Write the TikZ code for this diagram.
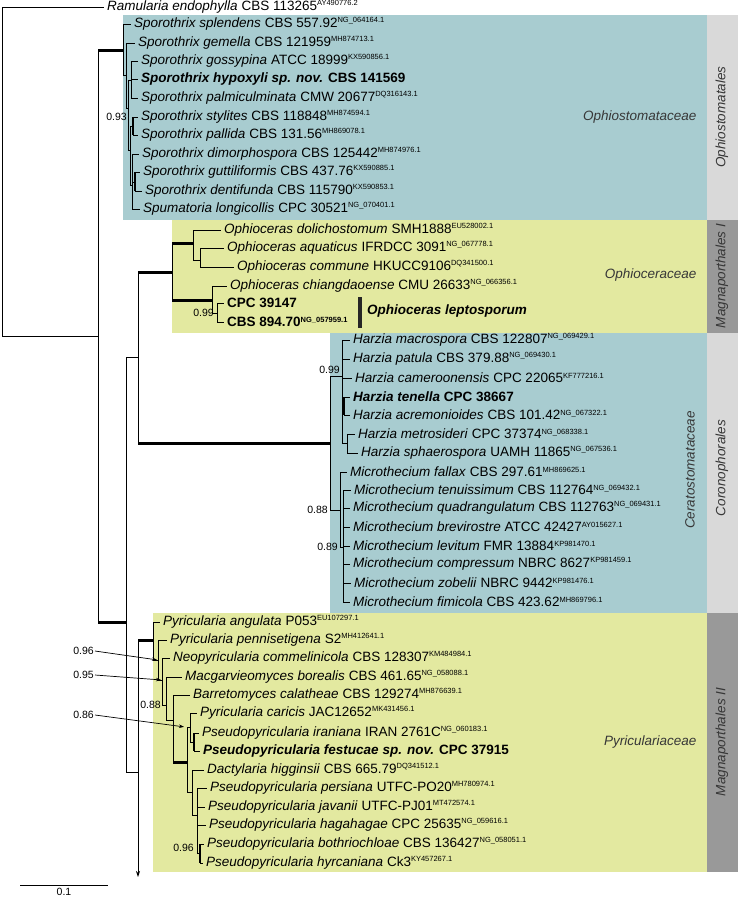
\documentclass[tikz,border=0pt]{standalone}
\usepackage{fontspec}
\setmainfont{Liberation Sans}
\usetikzlibrary{arrows.meta}
\definecolor{azul}{RGB}{168,204,208}
\definecolor{verde}{RGB}{227,233,160}
\definecolor{cinzaclaro}{RGB}{217,217,217}
\definecolor{cinzaescuro}{RGB}{153,153,153}
\definecolor{texto}{RGB}{55,55,55}
\newcommand{\acc}[1]{\raisebox{4.6pt}{\fontsize{7.5}{8}\selectfont #1}}
\newcommand{\tx}[3]{\textit{#1} #2\acc{#3}}
\begin{document}
\begin{tikzpicture}
    [x=1pt,y=-1pt,
     folha/.style={anchor=west,inner sep=3pt,font=\fontsize{13.5}{16}\selectfont},
     ramo/.style={line width=0.9pt},
     forte/.style={line width=3pt},
     medio/.style={line width=2pt},
     apoio/.style={anchor=east,inner sep=1pt,font=\fontsize{10.5}{12}\selectfont},
     fam/.style={anchor=east,font=\fontsize{13.5}{16}\selectfont\itshape,text=texto},
     ordem/.style={rotate=90,font=\fontsize{13.5}{16}\selectfont\itshape,text=texto},
     seta/.style={line width=0.7pt,-{Stealth[length=5pt,width=3.5pt]},shorten >=1pt} ]

    \useasboundingbox (0,0) rectangle (738,898);

    \fill[azul] (123,15) rectangle (707,220);
    \fill[cinzaclaro] (707,15) rectangle (738,220);
    \fill[verde] (172,220) rectangle (707,333);
    \fill[cinzaescuro] (707,220) rectangle (738,333);
    \fill[azul] (330,333) rectangle (707,613);
    \fill[cinzaclaro] (707,333) rectangle (738,613);
    \fill[verde] (153,613) rectangle (707,872);
    \fill[cinzaescuro] (707,613) rectangle (738,872);

    \node[ordem] (ord1) at (722,117) {Ophiostomatales};
    \node[ordem] (ord2) at (722,276) {Magnaporthales I};
    \node[ordem] (ord3) at (722,468) {Coronophorales};
    \node[ordem] (ord4) at (722,742) {Magnaporthales II};
    \node[fam] (fam1) at (700,117) {Ophiostomataceae};
    \node[fam] (fam2) at (700,275) {Ophioceraceae};
    \node[fam,rotate=90,anchor=center] (fam3) at (690,470) {Ceratostomataceae};
    \node[fam] (fam4) at (700,742) {Pyriculariaceae};

    \node[folha] (ram) at (104,7) {\tx{Ramularia endophylla}{CBS 113265}{AY490776.2}};

    \node[folha] (s1) at (131,24) {\tx{Sporothrix splendens}{CBS 557.92}{NG\_064164.1}};
    \node[folha] (s2) at (135,43) {\tx{Sporothrix gemella}{CBS 121959}{MH874713.1}};
    \node[folha] (s3) at (138,61) {\tx{Sporothrix gossypina}{ATCC 18999}{KX590856.1}};
    \node[folha] (s4) at (138,79) {\bfseries\textit{Sporothrix hypoxyli sp. nov.} CBS 141569};
    \node[folha] (s5) at (138,98) {\tx{Sporothrix palmiculminata}{CMW 20677}{DQ316143.1}};
    \node[folha] (s6) at (138,117) {\tx{Sporothrix stylites}{CBS 118848}{MH874594.1}};
    \node[folha] (s7) at (138,135) {\tx{Sporothrix pallida}{CBS 131.56}{MH869078.1}};
    \node[folha] (s8) at (139,154) {\tx{Sporothrix dimorphospora}{CBS 125442}{MH874976.1}};
    \node[folha] (s9) at (140,172) {\tx{Sporothrix guttiliformis}{CBS 437.76}{KX590885.1}};
    \node[folha] (s10) at (142,191) {\tx{Sporothrix dentifunda}{CBS 115790}{KX590853.1}};
    \node[folha] (s11) at (140,209) {\tx{Spumatoria longicollis}{CPC 30521}{NG\_070401.1}};

    \node[folha] (o1) at (221,230) {\tx{Ophioceras dolichostomum}{SMH1888}{EU528002.1}};
    \node[folha] (o2) at (224,248) {\tx{Ophioceras aquaticus}{IFRDCC 3091}{NG\_067778.1}};
    \node[folha] (o3) at (234,267) {\tx{Ophioceras commune}{HKUCC9106}{DQ341500.1}};
    \node[folha] (o4) at (227,286) {\tx{Ophioceras chiangdaoense}{CMU 26633}{NG\_066356.1}};
    \node[folha] (o5) at (224,303) {\bfseries CPC 39147};
    \node[folha] (o6) at (224,322) {\bfseries CBS 894.70\acc{NG\_057959.1}};
    \node[folha] (olep) at (364,311) {\bfseries\itshape Ophioceras leptosporum};

    \node[folha] (h1) at (350,340) {\tx{Harzia macrospora}{CBS 122807}{NG\_069429.1}};
    \node[folha] (h2) at (350,359) {\tx{Harzia patula}{CBS 379.88}{NG\_069430.1}};
    \node[folha] (h3) at (352,378) {\tx{Harzia cameroonensis}{CPC 22065}{KF777216.1}};
    \node[folha] (h4) at (350,397) {\bfseries\textit{Harzia tenella} CPC 38667};
    \node[folha] (h5) at (350,415) {\tx{Harzia acremonioides}{CBS 101.42}{NG\_067322.1}};
    \node[folha] (h6) at (355,434) {\tx{Harzia metrosideri}{CPC 37374}{NG\_068338.1}};
    \node[folha] (h7) at (358,453) {\tx{Harzia sphaerospora}{UAMH 11865}{NG\_067536.1}};
    \node[folha] (m1) at (347,472) {\tx{Microthecium fallax}{CBS 297.61}{MH869625.1}};
    \node[folha] (m2) at (351,490) {\tx{Microthecium tenuissimum}{CBS 112764}{NG\_069432.1}};
    \node[folha] (m3) at (350,508) {\tx{Microthecium quadrangulatum}{CBS 112763}{NG\_069431.1}};
    \node[folha] (m4) at (350,527) {\tx{Microthecium brevirostre}{ATCC 42427}{AY015627.1}};
    \node[folha] (m5) at (350,546) {\tx{Microthecium levitum}{FMR 13884}{KP981470.1}};
    \node[folha] (m6) at (350,564) {\tx{Microthecium compressum}{NBRC 8627}{KP981459.1}};
    \node[folha] (m7) at (351,583) {\tx{Microthecium zobelii}{NBRC 9442}{KP981476.1}};
    \node[folha] (m8) at (350,602) {\tx{Microthecium fimicola}{CBS 423.62}{MH869796.1}};

    \node[folha] (p1) at (160,622) {\tx{Pyricularia angulata}{P053}{EU107297.1}};
    \node[folha] (p2) at (167,640) {\tx{Pyricularia pennisetigena}{S2}{MH412641.1}};
    \node[folha] (p3) at (170,658) {\tx{Neopyricularia commelinicola}{CBS 128307}{KM484984.1}};
    \node[folha] (p4) at (182,677) {\tx{Macgarvieomyces borealis}{CBS 461.65}{NG\_058088.1}};
    \node[folha] (p5) at (190,695) {\tx{Barretomyces calatheae}{CBS 129274}{MH876639.1}};
    \node[folha] (p6) at (197,713) {\tx{Pyricularia caricis}{JAC12652}{MK431456.1}};
    \node[folha] (p7) at (199,733) {\tx{Pseudopyricularia iraniana}{IRAN 2761C}{NG\_060183.1}};
    \node[folha] (p8) at (200,751) {\bfseries\textit{Pseudopyricularia festucae sp. nov.} CPC 37915};
    \node[folha] (p9) at (204,770) {\tx{Dactylaria higginsii}{CBS 665.79}{DQ341512.1}};
    \node[folha] (p10) at (207,788) {\tx{Pseudopyricularia persiana}{UTFC-PO20}{MH780974.1}};
    \node[folha] (p11) at (205,807) {\tx{Pseudopyricularia javanii}{UTFC-PJ01}{MT472574.1}};
    \node[folha] (p12) at (206,825) {\tx{Pseudopyricularia hagahagae}{CPC 25635}{NG\_059616.1}};
    \node[folha] (p13) at (204,844) {\tx{Pseudopyricularia bothriochloae}{CBS 136427}{NG\_058051.1}};
    \node[folha] (p14) at (203,863) {\tx{Pseudopyricularia hyrcaniana}{Ck3}{KY457267.1}};

    \coordinate (raiz) at (2,170);
    \coordinate (nA) at (98,336);
    \coordinate (nB) at (126,622);
    \coordinate (nC) at (138,357);
    \coordinate (nD) at (138,772);
    \coordinate (fim) at (138,877);

    \coordinate (nS) at (123,50);
    \coordinate (nS1) at (126,75);
    \coordinate (nS2) at (128,108);
    \coordinate (nS3) at (131,80);
    \coordinate (nS4) at (130,150);
    \coordinate (nS5) at (133,126);
    \coordinate (nS6) at (132,185);
    \coordinate (nS7) at (135,182);

    \coordinate (nO) at (172,272);
    \coordinate (nO1) at (193,243);
    \coordinate (nO2) at (212,300);
    \coordinate (nO3) at (200,260);
    \coordinate (nO4) at (217,313);

    \coordinate (nCer) at (330,443);
    \coordinate (nH) at (342,376);
    \coordinate (nH2) at (344,406);
    \coordinate (nH3) at (347,443);
    \coordinate (nM) at (340,510);
    \coordinate (nM2) at (343,547);

    \coordinate (nP0) at (153,640);
    \coordinate (nP1) at (158,660);
    \coordinate (nP2) at (162,680);
    \coordinate (nP3) at (166,705);
    \coordinate (nP4) at (173,720);
    \coordinate (nP5) at (187,762);
    \coordinate (nP6) at (190,727);
    \coordinate (nP7) at (192,792);
    \coordinate (nP8) at (194,742);
    \coordinate (nP9) at (197,815);
    \coordinate (nP10) at (200,853);

    \draw[ramo] (raiz) |- (ram.west);
    \draw[ramo] (raiz) |- (nA);
    \draw[ramo] (nA) |- (nS);
    \draw[ramo] (nA) |- (nB);
    \draw[forte] (nA |- nS) -- (nS);
    \draw[forte] (nA |- nB) -- (nB);
    \draw[ramo] (nB) |- (nC);
    \draw[ramo] (nB) |- (nD);
    \draw[ramo] (nC) |- (nO);
    \draw[ramo] (nC) |- (nCer);
    \draw[forte] (nC |- nO) -- (nO);
    \draw[forte] (nC |- nCer) -- (nCer);
    \draw[ramo] (nD) |- (nP0);
    \draw[forte] (nD |- nP0) -- (nP0);
    \draw[ramo,-{Stealth[length=6pt,width=4pt]}] (nD) -- (fim);

    \draw[ramo] (nS) |- (s1.west);
    \draw[ramo] (nS) |- (nS1);
    \draw[ramo] (nS1) |- (s2.west);
    \draw[ramo] (nS1) |- (nS2);
    \draw[ramo] (nS2) |- (nS3);
    \draw[ramo] (nS2) |- (nS4);
    \foreach \f in {s3,s4,s5} \draw[ramo] (nS3) |- (\f.west);
    \draw[ramo] (nS4) |- (nS5);
    \draw[ramo] (nS4) |- (nS6);
    \foreach \f in {s6,s7} \draw[ramo] (nS5) |- (\f.west);
    \draw[medio] (nS5 |- s6) -- (nS5 |- s7);
    \foreach \f in {s8,s11} \draw[ramo] (nS6) |- (\f.west);
    \draw[ramo] (nS6) |- (nS7);
    \foreach \f in {s9,s10} \draw[ramo] (nS7) |- (\f.west);
    \draw[medio] (nS7 |- s9) -- (nS7 |- s10);

    \draw[ramo] (nO) |- (nO1);
    \draw[ramo] (nO) |- (nO2);
    \draw[forte] (nO |- nO1) -- (nO1);
    \draw[forte] (nO |- nO2) -- (nO2);
    \draw[ramo] (nO1) |- (o1.west);
    \draw[ramo] (nO1) |- (nO3);
    \foreach \f in {o2,o3} \draw[ramo] (nO3) |- (\f.west);
    \draw[ramo] (nO2) |- (o4.west);
    \draw[ramo] (nO2) |- (nO4);
    \foreach \f in {o5,o6} \draw[ramo] (nO4) |- (\f.west);
    \fill[black!85] (358,297) rectangle (362,328);

    \draw[ramo] (nCer) |- (nH);
    \draw[ramo] (nCer) |- (nM);
    \foreach \f in {h1,h2,h3} \draw[ramo] (nH) |- (\f.west);
    \draw[ramo] (nH) |- (nH2);
    \draw[ramo] (nH) |- (nH3);
    \foreach \f in {h4,h5} \draw[ramo] (nH2) |- (\f.west);
    \draw[medio] (nH2 |- h4) -- (nH2 |- h5);
    \foreach \f in {h6,h7} \draw[ramo] (nH3) |- (\f.west);
    \draw[ramo] (nM) |- (m1.west);
    \draw[ramo] (nM) |- (nM2);
    \foreach \f in {m2,m3,m4,m5,m6,m7,m8} \draw[ramo] (nM2) |- (\f.west);

    \draw[ramo] (nP0) |- (p1.west);
    \draw[ramo] (nP0) |- (nP1);
    \draw[ramo] (nP1) |- (p2.west);
    \draw[ramo] (nP1) |- (nP2);
    \draw[ramo] (nP2) |- (p3.west);
    \draw[ramo] (nP2) |- (nP3);
    \draw[ramo] (nP3) |- (p4.west);
    \draw[ramo] (nP3) |- (nP4);
    \draw[ramo] (nP4) |- (p5.west);
    \draw[ramo] (nP4) |- (nP5);
    \draw[forte] (nP4 |- nP5) -- (nP5);
    \draw[ramo] (nP5) |- (nP6);
    \draw[ramo] (nP5) |- (nP7);
    \draw[ramo] (nP6) |- (p6.west);
    \draw[ramo] (nP6) |- (nP8);
    \foreach \f in {p7,p8} \draw[ramo] (nP8) |- (\f.west);
    \draw[medio] (nP8 |- p7) -- (nP8 |- p8);
    \draw[ramo] (nP7) |- (p9.west);
    \draw[ramo] (nP7) |- (nP9);
    \foreach \f in {p10,p11,p12} \draw[ramo] (nP9) |- (\f.west);
    \draw[ramo] (nP9) |- (nP10);
    \foreach \f in {p13,p14} \draw[ramo] (nP10) |- (\f.west);
    \draw[medio] (nP10 |- p13) -- (nP10 |- p14);

    \node[apoio] (b1) at (128,117) {0.93};
    \node[apoio] (b2) at (215,313) {0.99};
    \node[apoio] (b3) at (341,370) {0.99};
    \node[apoio] (b4) at (329,510) {0.88};
    \node[apoio] (b5) at (339,547) {0.89};
    \node[apoio] (b6) at (95,651) {0.96};
    \node[apoio] (b7) at (95,675) {0.95};
    \node[apoio] (b8) at (95,715) {0.86};
    \node[apoio] (b9) at (162,705) {0.88};
    \node[apoio] (b10) at (195,848) {0.96};
    \draw[seta] (b6.east) -- (nP1);
    \draw[seta] (b7.east) -- (nP2);
    \draw[seta] (b8.east) -- ([xshift=-5pt]nP6);

    \coordinate (e1) at (20,885);
    \coordinate (e2) at (108,885);
    \draw[ramo] (e1) -- (e2);
    \node[apoio,anchor=center,inner sep=0pt] (esc) at (64,892) {0.1};

\end{tikzpicture}
\end{document}
